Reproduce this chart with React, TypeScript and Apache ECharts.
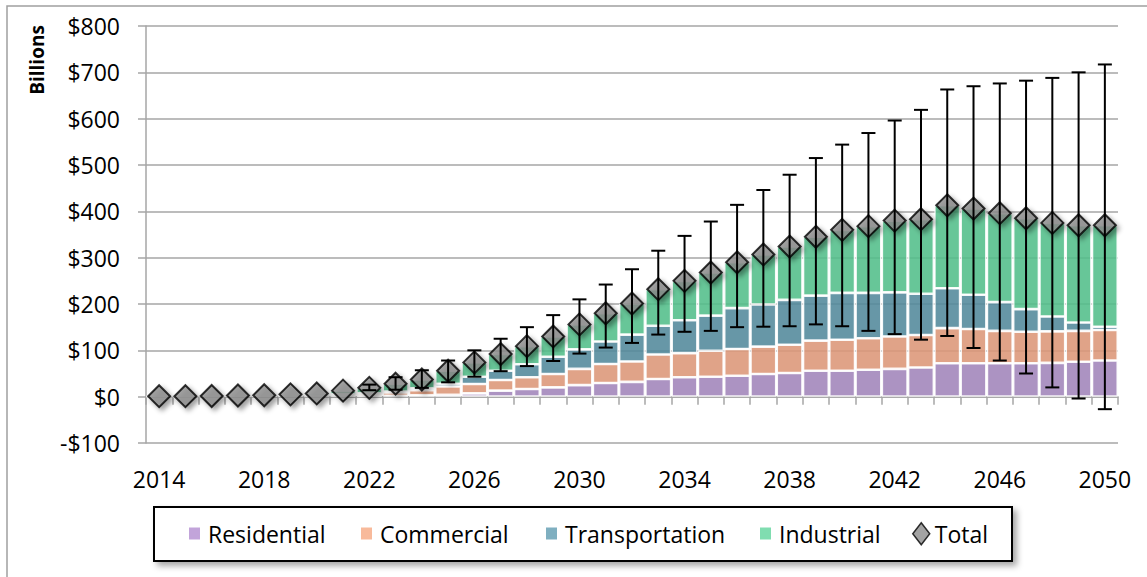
import React, { useEffect, useRef } from 'react';
import * as echarts from 'echarts';

const years = ['2014','2015','2016','2017','2018','2019','2020','2021','2022','2023','2024','2025','2026','2027','2028','2029','2030','2031','2032','2033','2034','2035','2036','2037','2038','2039','2040','2041','2042','2043','2044','2045','2046','2047','2048','2049','2050'];

const residential = [0.1,0.1,0.2,0.3,0.4,0.6,0.8,1.2,1.5,2,3,4,7,13,16.5,20,25,29.5,32,38,42,43,45,49,51,56,56,58,60,63,72,72,72,72,73,75.5,78];
const commercial = [0.2,0.2,0.3,0.5,0.6,1.0,1.5,2.8,4.5,7,11,18,20.5,23,25.5,29,35,41,44,53,52,56,58,59,61,65,67,68,70,70,76,74,70,68,68,66.5,66];
const transportation = [0.1,0.1,0.1,0.2,0.3,0.5,0.7,1.0,1.5,2,4,6,15.5,20,28,37,42,48.5,58,62,71,76,88,91,97,97,101,98,95,89,86,74,62,49,32,18,7];
const industrial = [0.6,0.6,0.9,1.5,1.7,2.9,4.0,8.0,11.5,17,19,28,31,36,39,44,54,61,67,79,85,93,99,108,115,127,136,144,155,161,179,186,192,196,202,210,219];
const totals = [1,1,1.5,2.5,3,5,7,13,19,28,37,56,74,92,109,130,156,180,201,232,250,268,290,307,324,345,360,368,380,383,413,406,396,385,375,370,370];
const errLow: (number | null)[] = [null,null,null,null,null,null,null,null,14,15,19,31,43,55,66,77,93,106,116,134,140,142,150,151,152,156,152,142,135,123,131,105,78,50,20,-4,-27];
const errHigh: (number | null)[] = [null,null,null,null,null,null,null,null,26,42,57,78,100,125,150,176,210,242,275,315,347,378,414,446,479,515,544,569,596,619,663,670,676,682,688,700,717];

const yTicks = { min: -100, max: 800, interval: 100 };
const xLabelEvery = 4;

const seriesNames = ['Residential', 'Commercial', 'Transportation', 'Industrial'];
const barColors = ['#A084BA', '#DC9678', '#52899B', '#52BE8A'];
const legendColors = ['#C2A4DA', '#F8BA9B', '#7FAFC0', '#80DDB0'];

const FONT = '"Open Sans", "Noto Sans", sans-serif';
const GRID_COLOR = '#A6A6A6';
const FS = 23;

export default function App() {
  const ref = useRef<HTMLDivElement>(null);

  useEffect(() => {
    const chart = echarts.init(ref.current as HTMLDivElement, null, { renderer: 'svg' });

    const errData = years
      .map((_, i) => (errLow[i] == null ? null : [i, errLow[i], errHigh[i]]))
      .filter((d) => d !== null);

    const barValues = [residential, commercial, transportation, industrial];
    const legendLefts = [189, 361, 546, 760];

    const barLegends = seriesNames.map((name, k) => ({
      left: legendLefts[k],
      top: 522,
      padding: 0,
      itemWidth: 11,
      itemHeight: 12,
      selectedMode: false,
      textStyle: { fontSize: FS, color: '#000', fontFamily: FONT, padding: [0, 0, 0, 3] },
      data: [{ name, icon: 'rect', itemStyle: { color: legendColors[k], borderWidth: 0, opacity: 1 } }],
      z: 5,
    }));

    chart.setOption({
      animation: false,
      textStyle: { fontFamily: FONT },
      grid: { left: 146, right: 29, top: 26, bottom: 134, containLabel: false },
      graphic: [
        {
          type: 'rect',
          shape: { x: 7, y: 6, width: 1160, height: 600 },
          style: { fill: 'none', stroke: '#A0A0A0', lineWidth: 1.5 },
          silent: true,
        },
        {
          type: 'text',
          x: 37,
          y: 60,
          rotation: Math.PI / 2,
          style: {
            text: 'Billions',
            font: `bold 19px ${FONT}`,
            fill: '#000',
            align: 'center',
            verticalAlign: 'middle',
          },
        },
        {
          type: 'rect',
          shape: { x: 154, y: 507, width: 858, height: 54 },
          style: {
            fill: '#ffffff',
            stroke: '#000000',
            lineWidth: 2,
            shadowBlur: 6,
            shadowOffsetX: 4,
            shadowOffsetY: 4,
            shadowColor: 'rgba(0,0,0,0.35)',
          },
          z: 1,
        },
      ],
      legend: [
        ...barLegends,
        {
          left: 912,
          top: 522,
          padding: 0,
          itemWidth: 17,
          itemHeight: 22,
          selectedMode: false,
          textStyle: { fontSize: FS, color: '#000', fontFamily: FONT },
          data: [
            { name: 'Total', icon: 'diamond', itemStyle: { color: '#8C8C8C', borderColor: '#000', borderWidth: 1.5 } },
          ],
          z: 5,
        },
      ],
      xAxis: [
        {
          type: 'category',
          data: years,
          position: 'bottom',
          boundaryGap: true,
          axisLine: { show: true, onZero: true, lineStyle: { color: GRID_COLOR, width: 1.5 } },
          axisTick: { show: true, interval: 0, length: 8, lineStyle: { color: GRID_COLOR, width: 1.5 } },
          axisLabel: { show: false },
          splitLine: { show: false },
        },
        {
          type: 'category',
          data: years,
          position: 'bottom',
          boundaryGap: true,
          axisLine: { show: false, onZero: false },
          axisTick: { show: false },
          axisLabel: {
            show: true,
            interval: xLabelEvery - 1,
            margin: 24,
            fontSize: FS,
            color: '#000',
            fontFamily: FONT,
          },
          splitLine: { show: false },
        },
      ],
      yAxis: {
        type: 'value',
        min: yTicks.min,
        max: yTicks.max,
        interval: yTicks.interval,
        axisLine: { show: true, lineStyle: { color: GRID_COLOR, width: 1.5 } },
        axisTick: { show: true, length: 8, lineStyle: { color: GRID_COLOR, width: 1.5 } },
        axisLabel: {
          margin: 26,
          fontSize: FS,
          color: '#000',
          fontFamily: FONT,
          formatter: (v: number) => (v < 0 ? `-$${-v}` : `$${v}`),
        },
        splitLine: { show: true, lineStyle: { color: GRID_COLOR, width: 1.5 } },
      },
      series: [
        ...seriesNames.map((name, k) => ({
          name,
          type: 'bar',
          stack: 'all',
          xAxisIndex: 0,
          barCategoryGap: '2%',
          data: barValues[k],
          itemStyle: { color: barColors[k], opacity: 0.88, borderColor: '#ffffff', borderWidth: 1.3 },
          z: 2,
        })),
        {
          name: 'Total',
          type: 'scatter',
          xAxisIndex: 0,
          data: totals,
          symbol: 'diamond',
          symbolSize: 22,
          itemStyle: {
            color: '#8C8C8C',
            borderColor: '#000',
            borderWidth: 2,
            shadowBlur: 5,
            shadowOffsetX: 3,
            shadowOffsetY: 3,
            shadowColor: 'rgba(0,0,0,0.45)',
          },
          z: 3,
        },
        {
          name: 'Error',
          type: 'custom',
          xAxisIndex: 0,
          data: errData,
          encode: { x: 0, y: [1, 2] },
          z: 4,
          silent: true,
          renderItem: (params: any, api: any) => {
            const i = api.value(0);
            const lo = api.value(1);
            const hi = api.value(2);
            const pLo = api.coord([i, lo]);
            const pHi = api.coord([i, hi]);
            const w = 7;
            const style = { stroke: '#000', lineWidth: 2 };
            return {
              type: 'group',
              children: [
                { type: 'line', shape: { x1: pLo[0], y1: pLo[1], x2: pHi[0], y2: pHi[1] }, style },
                { type: 'line', shape: { x1: pHi[0] - w, y1: pHi[1], x2: pHi[0] + w, y2: pHi[1] }, style },
                { type: 'line', shape: { x1: pLo[0] - w, y1: pLo[1], x2: pLo[0] + w, y2: pLo[1] }, style },
              ],
            };
          },
        },
      ],
    });

    return () => chart.dispose();
  }, []);

  return <div ref={ref} style={{ position: 'absolute', left: 0, top: 0, width: 1147, height: 577 }} />;
}
